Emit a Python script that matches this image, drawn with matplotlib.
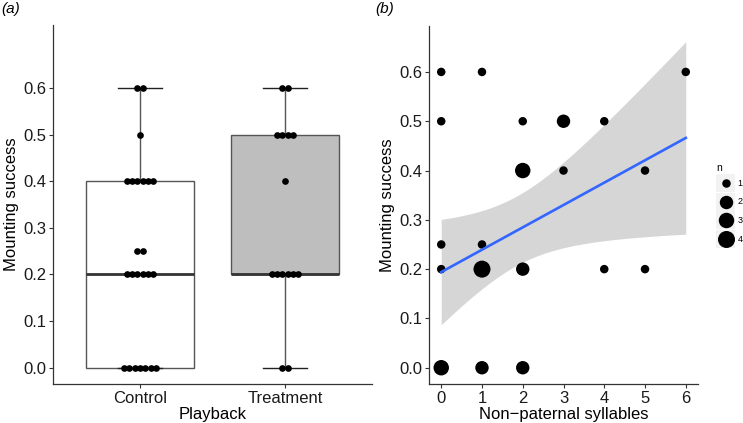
import numpy as np
import matplotlib
matplotlib.use('Agg')
import matplotlib.pyplot as plt
from matplotlib.patches import Rectangle

plt.rcParams['font.family'] = ['Liberation Sans', 'DejaVu Sans']

# panel (a): mounting success per playback group (value, how many birds)
groups = ['Control', 'Treatment']
control_vals = [0.0, 0.2, 0.25, 0.4, 0.5, 0.6]
control_counts = [7, 6, 2, 6, 1, 2]
treat_vals = [0.0, 0.2, 0.4, 0.5, 0.6]
treat_counts = [2, 6, 1, 4, 2]
box_fill = ['white', '#bebebe']

# panel (b): non-paternal syllables vs mounting success, n = overlapping birds
syll_x = [0, 0, 0, 0, 0, 1, 1, 1, 1, 2, 2, 2, 2, 3, 3, 4, 4, 5, 5, 6]
syll_y = [0.6, 0.5, 0.25, 0.2, 0.0, 0.6, 0.25, 0.2, 0.0, 0.5, 0.4, 0.2, 0.0,
          0.5, 0.4, 0.5, 0.2, 0.4, 0.2, 0.6]
syll_n = [1, 1, 1, 1, 3, 1, 1, 4, 2, 1, 3, 2, 2, 2, 1, 1, 1, 1, 1, 1]
legend_n = [1, 2, 3, 4]

W, H = 743, 423
fig = plt.figure(figsize=(W / 100, H / 100), dpi=100)


def px_axes(x0, y0, x1, y1):
    return fig.add_axes([x0 / W, 1 - y1 / H, (x1 - x0) / W, (y1 - y0) / H])


def style(ax):
    for s in ['top', 'right']:
        ax.spines[s].set_visible(False)
    for s in ['left', 'bottom']:
        ax.spines[s].set_color('#333333')
        ax.spines[s].set_linewidth(0.9)
    ax.tick_params(length=3, width=0.8, color='#333333', labelsize=12,
                   labelcolor='#1a1a1a', pad=2)


def dot_px(n):
    # ggplot area scale, range 1..6, turned into a pixel diameter
    size = 1 + 5 * np.sqrt((np.asarray(n) - 1) / 3.0)
    return 6.8 + 1.7 * size


yticks = np.round(np.arange(0, 0.61, 0.1), 1)
ylabels = ['%.1f' % v for v in yticks]

# ---------------- (a) ----------------
ax1 = px_axes(53, 25, 372, 384)
control = np.repeat(control_vals, control_counts)
treatment = np.repeat(treat_vals, treat_counts)
bp = ax1.boxplot([control, treatment], positions=[1, 2], widths=0.75,
                 patch_artist=True, showfliers=False, capwidths=0.3,
                 boxprops=dict(color='#555555', linewidth=1.0),
                 whiskerprops=dict(color='#555555', linewidth=1.0),
                 capprops=dict(color='#222222', linewidth=1.0),
                 medianprops=dict(color='#333333', linewidth=2.0))
for patch, c in zip(bp['boxes'], box_fill):
    patch.set_facecolor(c)

for pos, vals, counts in [(1, control_vals, control_counts),
                          (2, treat_vals, treat_counts)]:
    for v, c in zip(vals, counts):
        xs = pos + (np.arange(c) - (c - 1) / 2.0) * 0.037
        ax1.scatter(xs, [v] * c, s=(6.7 * 0.72) ** 2, color='black',
                    linewidths=0, zorder=4)

ax1.set_xlim(0.4, 2.6)
ax1.set_ylim(-0.035, 0.735)
ax1.set_xticks([1, 2])
ax1.set_xticklabels(groups)
ax1.set_yticks(yticks)
ax1.set_yticklabels(ylabels)
ax1.set_xlabel('Playback', fontsize=12, labelpad=1)
ax1.set_ylabel('Mounting success', fontsize=12, labelpad=3)
style(ax1)

# ---------------- (b) ----------------
ax2 = px_axes(429, 25.6, 698, 384)
xr = np.repeat(syll_x, syll_n).astype(float)
yr = np.repeat(syll_y, syll_n).astype(float)
slope, icpt = np.polyfit(xr, yr, 1)
resid = yr - (icpt + slope * xr)
s = np.sqrt(np.sum(resid ** 2) / (len(xr) - 2))
sxx = np.sum((xr - xr.mean()) ** 2)
xg = np.linspace(min(syll_x), max(syll_x), 80)
fit = icpt + slope * xg
se = s * np.sqrt(1.0 / len(xr) + (xg - xr.mean()) ** 2 / sxx)
t29 = 2.045
ax2.fill_between(xg, fit - t29 * se, fit + t29 * se, color='#999999',
                 alpha=0.4, linewidth=0, zorder=1)
ax2.scatter(syll_x, syll_y, s=(dot_px(syll_n) * 0.72) ** 2, color='black',
            linewidths=0, zorder=2)
ax2.plot(xg, fit, color='#3366FF', linewidth=1.9, zorder=3)

ax2.set_xlim(-0.3, 6.3)
ax2.set_ylim(-0.033, 0.694)
ax2.set_xticks(range(7))
ax2.set_yticks(yticks)
ax2.set_yticklabels(ylabels)
ax2.set_xlabel('Non\u2212paternal syllables', fontsize=12, labelpad=1)
ax2.set_ylabel('Mounting success', fontsize=12, labelpad=3)
style(ax2)

# legend for n
lax = px_axes(713, 160, 743, 250)
lax.set_xlim(713, 743)
lax.set_ylim(250, 160)
lax.axis('off')
lax.text(716, 168, 'n', fontsize=7.5, va='center', ha='left')
for i, n in enumerate(legend_n):
    yc = 183 + i * 18.7
    lax.add_patch(Rectangle((715.5, yc - 9), 19.5, 18, facecolor='#f2f2f2',
                            edgecolor='none'))
    lax.scatter([725.5], [yc], s=(dot_px(n) * 0.72) ** 2, color='black',
                linewidths=0, zorder=3)
    lax.text(737.5, yc, str(n), fontsize=6.5, va='center', ha='left',
             clip_on=False)

fig.text(1 / W, 1 - 9 / H, '(a)', style='italic', fontsize=11, va='center')
fig.text(375 / W, 1 - 9 / H, '(b)', style='italic', fontsize=11, va='center')

plt.savefig('out.png', dpi=100)
